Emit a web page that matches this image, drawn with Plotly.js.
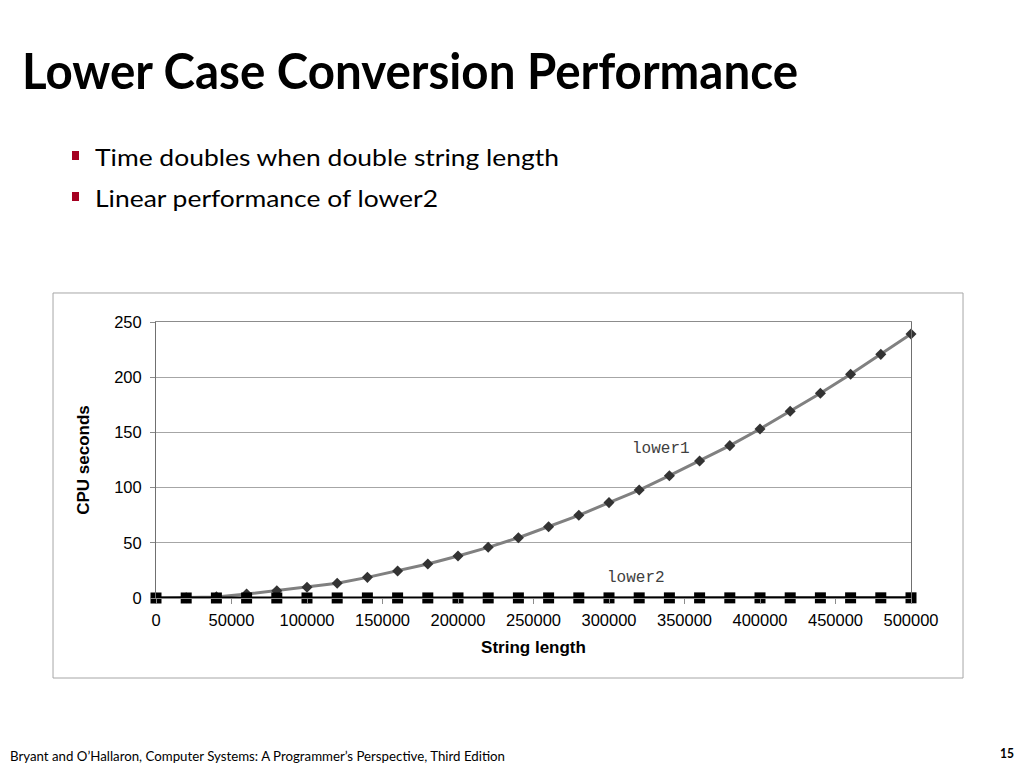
<!DOCTYPE html>
<html>
<head>
<meta charset="utf-8">
<script src="https://cdn.plot.ly/plotly-3.0.1.min.js"></script>
<style>
  html, body { margin: 0; padding: 0; background: #ffffff; }
  #wrap { position: relative; width: 1024px; height: 768px; overflow: hidden; }
  #chart { position: absolute; left: 0; top: 0; width: 1024px; height: 768px; }
  .txt { position: absolute; white-space: nowrap; font-family: Lato, "Open Sans", sans-serif; color: #000; line-height: 1; transform-origin: 0 0; }
  .bullet { position: absolute; width: 7px; height: 9px; background: #a50021; }
</style>
</head>
<body>
<div id="wrap">
  <div id="chart"></div>
  <div class="txt" id="title" data-w="776" style="left:22px; top:45px; font-size:50px; font-weight:700;">Lower Case Conversion Performance</div>
  <div class="bullet" style="left:72px; top:151px;"></div>
  <div class="txt" id="b1" data-w="464" style="left:95px; top:145px; font-size:24px;">Time doubles when double string length</div>
  <div class="bullet" style="left:72px; top:192px;"></div>
  <div class="txt" id="b2" data-w="343" style="left:95px; top:186px; font-size:24px;">Linear performance of lower2</div>
  <div class="txt" id="foot" data-w="495" style="left:10px; top:750px; font-size:13px;">Bryant and O’Hallaron, Computer Systems: A Programmer’s Perspective, Third Edition</div>
  <div class="txt" id="page" data-w="14" style="left:1000px; top:747px; font-size:13px; font-weight:700;">15</div>
</div>
<script>
// ---- data ----
const stringLength = [0, 20000, 40000, 60000, 80000, 100000, 120000, 140000, 160000, 180000,
  200000, 220000, 240000, 260000, 280000, 300000, 320000, 340000, 360000, 380000,
  400000, 420000, 440000, 460000, 480000, 500000];
const lower1 = [0, 0.3, 1.0, 3.6, 6.6, 9.7, 13.3, 18.7, 24.5, 30.8,
  38.0, 45.9, 54.6, 64.6, 74.9, 86.4, 97.8, 110.8, 124.1, 138.0,
  153.1, 169.1, 185.4, 202.6, 220.7, 239.1];
const lower2 = [0, 0.01, 0.01, 0.02, 0.03, 0.03, 0.04, 0.05, 0.05, 0.06,
  0.07, 0.07, 0.08, 0.09, 0.09, 0.10, 0.11, 0.11, 0.12, 0.13,
  0.13, 0.14, 0.15, 0.15, 0.16, 0.17];
const xTicks = [0, 50000, 100000, 150000, 200000, 250000, 300000, 350000, 400000, 450000, 500000];
const yTicks = [0, 50, 100, 150, 200, 250];
const seriesNames = ["lower1", "lower2"];
const labelPos = { lower1: [334400, 135], lower2: [317900, 18.5] };

const traces = [
  {
    x: stringLength, y: lower1, name: seriesNames[0], mode: "lines+markers", type: "scatter",
    line: { color: "#808080", width: 3 }, cliponaxis: false,
    marker: { symbol: "diamond", size: 8.5, color: "#333333" }
  },
  {
    x: stringLength, y: lower2, name: seriesNames[1], mode: "lines+markers", type: "scatter",
    line: { color: "#000000", width: 3 }, cliponaxis: false,
    marker: { symbol: "square", size: 11, color: "#000000" }
  }
];

const axisFont = { family: "Liberation Sans, Arial, sans-serif", size: 16.5, color: "#000" };
const layout = {
  width: 1024, height: 768,
  margin: { l: 156, r: 113, t: 322, b: 170, pad: 0 },
  paper_bgcolor: "rgba(0,0,0,0)", plot_bgcolor: "#ffffff",
  showlegend: false,
  xaxis: {
    range: [0, 500000], tickvals: xTicks, ticktext: xTicks.map(String),
    showgrid: false, zeroline: false,
    showline: true, mirror: true, linecolor: "#8c8c8c", linewidth: 1,
    ticks: "outside", ticklen: 5, tickcolor: "#8c8c8c", tickfont: axisFont,
    ticklabelstandoff: 2,
    title: { text: "String length", font: { family: "Liberation Sans, Arial, sans-serif", size: 17, color: "#000", weight: "bold" }, standoff: 13 },
    automargin: false, fixedrange: true
  },
  yaxis: {
    range: [0, 250], tickvals: yTicks, ticktext: yTicks.map(String),
    showgrid: true, gridcolor: "#a6a6a6", gridwidth: 1, zeroline: false,
    showline: true, mirror: true, linecolor: "#707070", linewidth: 1,
    ticks: "outside", ticklen: 5, tickcolor: "#8c8c8c", tickfont: axisFont,
    ticklabelstandoff: 5,
    title: { text: "CPU seconds", font: { family: "Liberation Sans, Arial, sans-serif", size: 17, color: "#000", weight: "bold" }, standoff: 20 },
    automargin: false, fixedrange: true
  },
  shapes: [{
    type: "rect", xref: "paper", yref: "paper", layer: "below",
    x0: -0.1364, x1: 1.0689, y0: -0.2899, y1: 1.1051,
    line: { color: "#a6a6a6", width: 1 }, fillcolor: "rgba(0,0,0,0)"
  }],
  annotations: seriesNames.map(n => ({
    x: labelPos[n][0], y: labelPos[n][1], xref: "x", yref: "y", text: n, showarrow: false,
    font: { family: "Liberation Mono, Courier New, monospace", size: 16, color: "#404040" }
  }))
};

Plotly.newPlot("chart", traces, layout, { staticPlot: true, displayModeBar: false }).then(() => {
  document.querySelectorAll(".txt").forEach(el => {
    const w = el.getBoundingClientRect().width;
    const target = parseFloat(el.dataset.w);
    el.style.transform = "scaleX(" + (target / w) + ")";
  });
});
</script>
</body>
</html>
